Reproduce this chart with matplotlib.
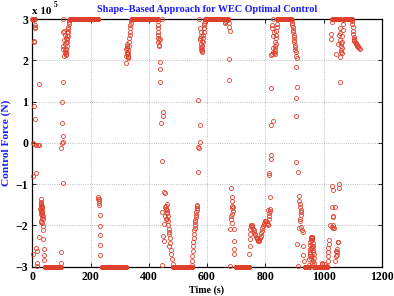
import numpy as np
import matplotlib.pyplot as plt

plt.rcParams['font.family'] = 'serif'
plt.rcParams['font.serif'] = ['Liberation Serif', 'DejaVu Serif']
plt.rcParams['font.weight'] = 'bold'

# runs where the force sits on the +/-3e5 N limit (start, end in s)
sat_hi_start = [0, 129, 341, 594, 841, 1030, 1070]
sat_hi_end = [8, 226, 430, 672, 889, 1057, 1097]
sat_lo_start = [42, 238, 483, 698, 936, 968]
sat_lo_end = [97, 322, 548, 745, 950, 1012]
sat_level = 3.0
dt = 1.0

# the other samples, force in 1e5 N
t_a = [8, 9, 10, 2, 6, 7, 22, 6, 10, 3, 7, 13, 18, 24, 3, 13, 1, 14, 17, 15, 17, 24, 38, 39, 40, 40]
f_a = [2.86, 2.8, 2.78, 2.98, 2.48, 2.45, 1.44, 0.9, 0.57, -0.01, -0.03, -0.05, -0.05, -0.06, -0.8, -0.73,
       -2.7, -2.55, -2.62, -2.9, -2.98, -2.27, -2.33, -2.56, -2.71, -2.83]
t_b = [30, 31, 31, 29, 32, 30, 33, 31, 30, 34, 29, 32, 35, 33, 36, 31, 29, 34, 37, 36, 28, 30, 32]
f_b = [-1.35, -1.42, -1.48, -1.5, -1.52, -1.55, -1.58, -1.62, -1.67, -1.7, -1.72, -1.75, -1.78, -1.82, -1.85,
       -1.88, -1.92, -1.95, -2.02, -2.1, -1.6, -1.45, -1.65]
t_c = [97, 98, 100, 102, 106, 101, 103, 105, 105, 105, 105, 104, 106, 108, 107, 109, 110, 111, 112, 113, 114,
       115, 116, 117, 118, 119, 120, 121, 122, 123, 124, 125, 126, 127, 118, 120, 115, 117, 112]
f_c = [-2.9, -2.65, -0.12, 0.0, -0.96, 0.48, 0.99, 1.48, 0.17, 0.03, 3.0, 2.34, 2.68, 2.72, 2.28, 2.1, 2.5,
       2.25, 2.4, 2.18, 2.14, 2.16, 2.2, 2.27, 2.35, 2.44, 2.52, 2.6, 2.68, 2.76, 2.82, 2.88, 2.93, 2.97, 2.6,
       2.7, 2.45, 2.55, 2.62]
t_d = [226, 227, 228, 229, 230, 228, 231, 232, 232, 233, 234]
f_d = [-1.32, -1.36, -1.4, -1.37, -1.45, -1.5, -1.75, -2.02, -2.24, -2.48, -2.72]
t_e = [322, 321, 323, 324, 325, 326, 327, 328, 328, 329, 330, 331, 332, 333, 334, 335, 336, 337, 338, 339, 326, 324]
f_e = [1.93, 2.1, 2.28, 2.2, 2.35, 2.15, 2.08, 2.05, 2.12, 2.18, 2.26, 2.35, 2.45, 2.55, 2.62, 2.7, 2.78, 2.85,
       2.92, 2.97, 2.3, 2.4]
t_f = [430, 431, 430, 431, 432, 433, 435, 438, 433, 434, 434, 446, 439, 440, 440, 449, 450, 441, 444]
f_f = [2.95, 2.85, 2.78, 2.7, 2.62, 2.55, 2.5, 2.52, 2.45, 2.38, 2.34, 3.0, 1.97, 1.8, 1.48, 0.76, 0.65, 0.49, -0.43]
t_g = [453, 457, 461, 459, 456, 444, 461, 456, 459, 464, 453, 467, 470, 469, 449, 472, 453, 473, 470, 475, 477,
       479, 482, 444, 460, 462, 463, 465, 466, 468]
f_g = [-1.2, -1.22, -1.48, -1.52, -1.55, -1.67, -1.67, -1.76, -1.84, -1.84, -1.97, -2.0, -2.09, -2.2, -2.25,
       -2.3, -2.37, -2.42, -2.49, -2.6, -2.69, -2.82, -2.93, -2.96, -1.6, -1.62, -1.7, -1.78, -1.9, -2.15]
t_h = [548, 549, 550, 551, 552, 553, 554, 555, 556, 557, 558, 559, 560, 561, 562, 563, 564, 565, 566, 567,
       569, 570, 571, 570, 575, 576]
f_h = [-2.95, -2.85, -2.75, -2.62, -2.5, -2.4, -2.3, -2.2, -2.12, -2.05, -1.98, -1.92, -1.86, -1.8, -1.74,
       -1.68, -1.62, -1.58, -1.53, -1.5, -0.09, -0.7, -0.12, 1.05, 0.44, 0.02]
t_i = [574, 577, 575, 576, 578, 579, 580, 581, 582, 583, 584, 585, 586, 587, 588, 589, 590, 591, 592, 580, 582, 579]
f_i = [3.0, 2.78, 2.55, 2.5, 2.4, 2.32, 2.25, 2.2, 2.22, 2.28, 2.36, 2.45, 2.55, 2.62, 2.7, 2.78, 2.85, 2.9,
       2.95, 2.6, 2.48, 2.7]
t_j = [660, 662, 664, 673, 675, 677, 679, 676, 677]
f_j = [2.94, 2.92, 2.95, 2.98, 2.9, 2.82, 2.72, 2.03, 1.52]
t_k = [682, 684, 686, 687, 685, 688, 683, 682, 686, 680, 691, 691, 693, 694, 680, 685, 689]
f_k = [-1.1, -1.32, -1.4, -1.52, -1.58, -1.55, -1.76, -1.85, -1.72, -2.09, -2.09, -2.37, -2.57, -2.69, -2.98,
       -1.95, -1.65]
t_l = [743, 747, 749, 749, 749, 750, 752, 754, 756, 758, 760, 762, 764, 766, 768, 770, 772, 774, 776, 778, 780,
       782, 784, 786, 788, 790, 792, 794, 796, 798, 800, 802, 804, 806, 808, 810]
f_l = [-2.69, -2.49, -2.33, -2.21, -2.09, -2.02, -1.98, -2.0, -2.04, -2.08, -2.12, -2.16, -2.2, -2.24, -2.27,
       -2.3, -2.33, -2.35, -2.37, -2.38, -2.36, -2.31, -2.25, -2.19, -2.13, -2.07, -2.02, -1.97, -1.93, -1.9,
       -1.88, -1.88, -1.9, -1.93, -1.96, -1.98]
t_m = [810, 812, 814, 813, 815, 816, 815, 812, 814, 820, 819]
f_m = [-1.62, -1.7, -1.78, -1.84, -1.66, -1.6, -1.3, -0.72, -0.78, -0.3, -0.4]
t_n = [819, 821, 826, 818, 823, 825, 830, 832, 833, 834, 835, 836, 834, 837, 836, 838, 839, 840, 826, 828, 824,
       822, 825, 829]
f_n = [2.14, 1.34, 0.53, 0.44, 2.15, 2.2, 2.18, 2.16, 2.22, 2.28, 2.35, 2.4, 2.45, 2.55, 2.62, 2.72, 2.8, 2.88,
       2.3, 2.6, 2.85, 2.78, 3.0, 2.7]
t_o = [890, 892, 893, 894, 895, 896, 897, 898, 899, 900, 901, 902, 903, 904, 906, 910, 905, 909, 907, 906]
f_o = [2.98, 2.92, 2.86, 2.8, 2.74, 2.68, 2.62, 2.56, 2.5, 2.44, 2.38, 2.32, 2.26, 2.2, 2.12, 2.07, 1.84, 1.36,
       1.1, 0.66]
t_p = [907, 912, 916, 918, 921, 919, 916, 924, 928, 910, 930, 931, 934, 911, 920, 922, 917, 923, 920, 926]
f_p = [-0.47, -0.7, -1.28, -1.48, -1.67, -1.84, -2.05, -2.03, -2.17, -2.45, -2.49, -2.72, -2.86, -2.98, -1.56,
       -1.62, -1.4, -1.75, -1.9, -2.1]
t_q = [950, 951, 952, 953, 954, 955, 956, 957, 958, 959, 960, 961, 962, 963, 964, 965, 966, 967, 968, 953, 955,
       957, 959, 961, 963, 965, 957, 960, 962, 993, 996, 1000]
f_q = [-2.95, -2.82, -2.7, -2.58, -2.48, -2.4, -2.35, -2.31, -2.29, -2.28, -2.28, -2.3, -2.35, -2.42, -2.5,
       -2.6, -2.7, -2.8, -2.9, -2.75, -2.65, -2.55, -2.5, -2.55, -2.65, -2.85, -2.8, -2.75, -2.9, -2.93, -2.92,
       -2.94]
t_r = [1013, 1014, 1015, 1016, 1017, 1018, 1019, 1030, 1031, 1034, 1037, 1031, 1034, 1038, 1030, 1032, 1053, 1052,
       1048, 1049, 1047, 1046, 1045, 1040, 1042, 1044, 1050, 1023, 1029]
f_r = [-2.98, -2.86, -2.75, -2.65, -2.55, -2.45, -2.35, -2.03, -2.07, -2.0, -2.05, -1.8, -1.78, -1.56, -1.05,
       -1.13, -1.0, -1.08, -2.4, -2.4, -2.57, -2.65, -2.72, -2.85, -2.75, -2.62, -2.4, -2.0, -1.55]
t_s = [1030, 1027, 1025, 1044, 1050, 1052, 1055, 1056, 1058, 1059, 1060, 1061, 1062, 1061, 1063, 1064, 1065,
       1066, 1067, 1068, 1055, 1058]
f_s = [2.93, 2.64, 2.52, 2.16, 2.4, 2.62, 2.78, 2.66, 2.5, 2.42, 2.35, 2.25, 2.18, 2.2, 2.3, 2.45, 2.6, 2.75,
       2.88, 2.97, 1.48, 2.08]
t_u = [1098, 1099, 1100, 1101, 1102, 1103, 1104, 1105, 1106, 1108, 1110, 1112, 1114, 1116, 1118, 1120, 1122, 1124]
f_u = [2.96, 2.88, 2.8, 2.72, 2.64, 2.58, 2.53, 2.5, 2.47, 2.44, 2.42, 2.4, 2.38, 2.36, 2.34, 2.32, 2.3, 2.28]

t_pts = t_a + t_b + t_c + t_d + t_e + t_f + t_g + t_h + t_i + t_j + t_k + t_l + t_m + t_n + t_o + t_p + t_q + t_r + t_s + t_u
f_pts = f_a + f_b + f_c + f_d + f_e + f_f + f_g + f_h + f_i + f_j + f_k + f_l + f_m + f_n + f_o + f_p + f_q + f_r + f_s + f_u

t_all = list(t_pts)
f_all = list(f_pts)
for s, e in zip(sat_hi_start, sat_hi_end):
    tt = np.arange(s, e + dt, dt)
    t_all += list(tt)
    f_all += [sat_level] * len(tt)
for s, e in zip(sat_lo_start, sat_lo_end):
    tt = np.arange(s, e + dt, dt)
    t_all += list(tt)
    f_all += [-sat_level] * len(tt)
force = np.array(f_all) * 1e5

fig = plt.figure(figsize=(3.94, 2.96), dpi=100)
ax = fig.add_axes([0.082, 0.099, 0.887, 0.836])
ax.plot(t_all, force, 'o', ls='none', ms=2.9, mfc='none', mec='#e0402c', mew=0.6, clip_on=False, zorder=3)

ax.set_xlim(0, 1200)
ax.set_ylim(-3e5, 3e5)
ax.set_xticks(np.arange(0, 1201, 200))
ax.set_yticks(np.arange(-3e5, 3.01e5, 1e5))
ax.set_yticklabels(['\u22123', '\u22122', '\u22121', '0', '1', '2', '3'])
ax.tick_params(direction='in', top=True, right=True, labelsize=8.5, length=3, width=0.6, pad=3)
ax.grid(True, ls=':', color='#a8a8a8', lw=0.6)
for sp in ax.spines.values():
    sp.set_linewidth(0.9)

ax.text(0.0, 1.012, 'x 10', transform=ax.transAxes, fontsize=8, fontweight='bold', va='bottom', ha='left')
ax.text(0.061, 1.04, '5', transform=ax.transAxes, fontsize=5.5, fontweight='bold', va='bottom', ha='left')
ax.set_title('Shape\u2013Based Approach for WEC Optimal Control', color='#1a1aff', fontsize=7.3,
             fontweight='bold', pad=5)
ax.set_xlabel('Time (s)', fontsize=7.2, fontweight='bold', labelpad=2)
ax.set_ylabel('Control Force (N)', color='#1a1aff', fontsize=8.2, fontweight='bold', labelpad=3)

fig.savefig('out.png', dpi=100)
